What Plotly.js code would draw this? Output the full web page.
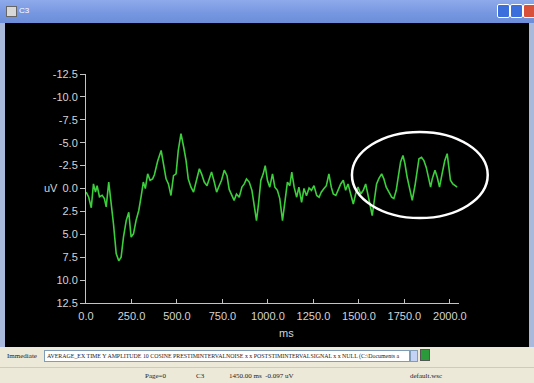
<!DOCTYPE html>
<html><head><meta charset="utf-8">
<script src="https://cdn.plot.ly/plotly-3.0.1.min.js"></script>
<style>
html,body{margin:0;padding:0;width:534px;height:383px;overflow:hidden;background:#a9b9dc;font-family:"Liberation Sans",Arial,sans-serif;}
#title{position:absolute;left:0;top:0;width:534px;height:23px;background:linear-gradient(#8eaaea,#7596e0 60%,#6c8cd8);}
#title .ic{position:absolute;left:6px;top:6px;width:9px;height:9px;background:#d8d8d8;border:1px solid #666;}
#title .t{position:absolute;left:19px;top:6px;color:#fff;font-size:8px;}
.btn{position:absolute;top:4px;width:11px;height:12px;border:1px solid #fff;border-radius:2px;background:#3d6fdc;}
#chart{position:absolute;left:5px;top:23px;width:524px;height:324px;background:#000;}
#tool{position:absolute;left:0;top:347px;width:534px;height:20px;background:#ece9d8;}
#tool .lb{position:absolute;left:7px;top:5px;font-family:"Liberation Serif",serif;font-size:7px;color:#222;}
#tool .fld{position:absolute;left:44px;top:3px;width:366px;height:12px;background:#fff;border:1px solid #7f9db9;box-sizing:border-box;}
#tool .fld span{position:absolute;left:2px;top:2px;font-family:"Liberation Serif",serif;font-size:5.9px;line-height:7px;color:#222;white-space:nowrap;}
#tool .dd{position:absolute;left:410px;top:3px;width:8px;height:12px;background:#c4d3f5;border:1px solid #7f9db9;box-sizing:border-box;}
#tool .go{position:absolute;left:420px;top:2px;width:10px;height:12px;background:#2a9a3a;border:1px solid #555;box-sizing:border-box;}
#status{position:absolute;left:0;top:367px;width:534px;height:16px;background:#ece9d8;border-top:1px solid #cfcbb8;font-family:"Liberation Serif",serif;font-size:7px;color:#222;}
#status span{position:absolute;top:4px;}
</style></head>
<body>
<div id="title"><div class="ic"></div><div class="t">C3</div>
<div class="btn" style="left:497px"></div><div class="btn" style="left:510px"></div><div class="btn" style="left:523px;background:#d9503a"></div></div>
<div id="chart"></div>
<div id="tool"><div class="lb">Immediate</div>
<div class="fld"><span>AVERAGE_EX TIME Y AMPLITUDE 10 COSINE PRESTIMINTERVALNOISE x x POSTSTIMINTERVALSIGNAL x x NULL (C:\Documents a</span></div>
<div class="dd"></div><div class="go"></div></div>
<div id="status"><span style="left:145px">Page=0</span><span style="left:196px">C3</span><span style="left:229px">1450.00 ms&nbsp; -0.097 uV</span><span style="left:410px">default.wsc</span></div>
<script>
// Time (ms) and amplitude (uV)
const timeMs = [1,15,29,41,52,61,74,89,101,111,125,138,151,166,180,193,206,221,235,248,261,275,290,304,315,326,339,352,366,376,394,413,427,440,453,467,481,495,507,522,537,550,562,577,591,605,623,635,650,665,677,690,705,718,732,745,760,775,787,805,814,827,842,857,870,882,897,912,924,937,948,961,974,985,997,1010,1025,1038,1052,1065,1080,1093,1107,1120,1131,1144,1158,1170,1185,1198,1212,1226,1239,1253,1268,1281,1293,1308,1321,1335,1348,1359,1373,1385,1400,1414,1427,1440,1455,1469,1482,1495,1510,1524,1537,1550,1564,1573,1583,1597,1610,1625,1637,1650,1665,1680,1692,1705,1716,1729,1742,1753,1765,1778,1793,1808,1820,1830,1844,1857,1870,1881,1894,1903,1918,1930,1943,1957,1972,1985,1994,2003,2016,2027,2040];
const amplitude = [0.4,0.95,2.1,-0.5,0.4,-0.3,0.9,0.75,1.1,2.0,-0.7,1.3,3.85,7.1,7.9,7.5,5.3,3.5,2.6,5.3,4.95,3.5,2.4,0.76,-0.7,0,-1.6,-0.9,-1.05,-1.5,-3.0,-4.15,-2.3,-1.05,-0.5,0.76,-1.4,-1.6,-4.15,-6.0,-4.5,-3.05,-1.05,-0.15,0.4,-0.7,-2.15,-1.6,-0.7,-0.3,-1.05,-1.8,-0.7,0.4,-0.3,-0.9,-2.0,-1.4,0.1,0.8,1.3,0.6,0.95,-0.15,-0.5,-1.05,-0.7,0.2,1.7,3.5,1.7,-0.9,-1.6,-2.5,-0.9,-0.15,-1.6,-0.15,0.2,1.1,3.5,1.3,-0.7,-0.3,-1.8,-0.15,0.95,-0.15,1.5,0.0,0.8,-0.05,0.2,-0.3,0.76,0.95,0.4,0,-0.3,-1.6,-0.15,0.6,0.76,0.2,-0.5,-0.9,0.2,-0.5,0.76,1.7,0.6,-0.15,0.6,0.2,-0.5,0.6,2.05,2.95,1.3,-0.5,-1.1,-1.6,-1.05,-0.15,0.4,0.95,1.1,0.2,-1.25,-2.9,-3.6,-2.7,-1.25,0,1.3,-0.3,-2.0,-3.25,-3.4,-3.05,-2.3,-1.25,-0.15,-1.05,-2.0,-1.25,-0.15,-1.6,-3.05,-3.8,-2.3,-0.9,-0.5,-0.3,-0.15];
const xTicks = [0,250,500,750,1000,1250,1500,1750,2000];
const yTicks = [-12.5,-10,-7.5,-5,-2.5,0,2.5,5,7.5,10,12.5];

const axisCol = '#c4c4c4';
const trace = {x: timeMs, y: amplitude, type: 'scatter', mode: 'lines',
  line: {color: '#3ccf3c', width: 1.6}, hoverinfo: 'skip'};
const layout = {
  width: 524, height: 324,
  margin: {l: 81, r: 70, t: 51, b: 44},
  paper_bgcolor: '#000', plot_bgcolor: '#000',
  showlegend: false,
  font: {family: '"Liberation Sans", Arial, sans-serif', size: 11, color: '#d4d4d4'},
  xaxis: {range: [0, 2050], tickvals: xTicks, ticktext: xTicks.map(v => v.toFixed(1)),
    showline: true, linecolor: axisCol, linewidth: 1, ticks: 'inside', ticklen: 4, tickcolor: axisCol,
    ticklabelstandoff: 3,
    showgrid: false, zeroline: false, fixedrange: true},
  yaxis: {range: [12.5, -12.5], tickvals: yTicks, ticktext: yTicks.map(v => v.toFixed(1)),
    showline: true, linecolor: axisCol, linewidth: 1, ticks: 'outside', ticklen: 5, tickcolor: axisCol,
    showgrid: false, zeroline: false, fixedrange: true},
  annotations: [
    {text: 'uV', xref: 'paper', yref: 'paper', x: -0.117, y: 0.502, showarrow: false, font: {size: 11, color: '#d4d4d4'}},
    {text: 'ms', xref: 'paper', yref: 'paper', x: 0.537, y: -0.165, showarrow: false, font: {size: 11, color: '#d4d4d4'}}
  ],
  shapes: [
    {type: 'circle', xref: 'paper', yref: 'paper', x0: 0.713, x1: 1.077, y0: 0.371, y1: 0.747,
     line: {color: '#ffffff', width: 2.5}}
  ]
};
Plotly.newPlot('chart', [trace], layout, {displayModeBar: false, staticPlot: true});
</script>
</body></html>
